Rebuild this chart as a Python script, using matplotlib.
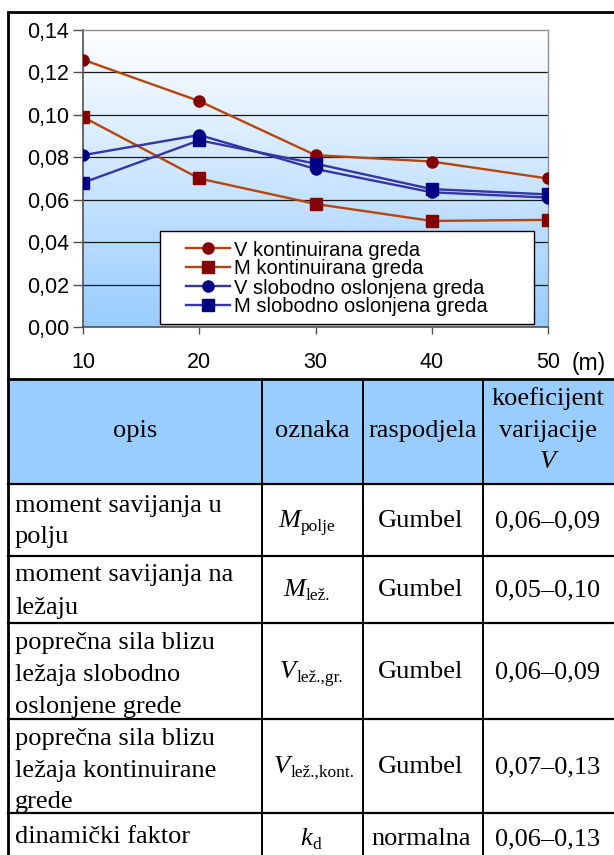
import numpy as np
import matplotlib
matplotlib.use("Agg")
import matplotlib.pyplot as plt
from matplotlib.colors import LinearSegmentedColormap

# ---------------- data ----------------
span = [10, 20, 30, 40, 50]
v_kont = [0.126, 0.1065, 0.081, 0.078, 0.070]
m_kont = [0.099, 0.070, 0.058, 0.050, 0.0505]
v_slob = [0.081, 0.0905, 0.0745, 0.0635, 0.061]
m_slob = [0.068, 0.088, 0.077, 0.065, 0.0625]
series_labels = ["V kontinuirana greda", "M kontinuirana greda",
                 "V slobodno oslonjena greda", "M slobodno oslonjena greda"]
y_ticks = [0.00, 0.02, 0.04, 0.06, 0.08, 0.10, 0.12, 0.14]
y_tick_labels = ["0,00", "0,02", "0,04", "0,06", "0,08", "0,10", "0,12", "0,14"]
x_unit = "(m)"

table_header = ["opis", "oznaka", "raspodjela", "koeficijent\nvarijacije"]
table_desc = ["moment savijanja u\npolju",
              "moment savijanja na\nležaju",
              "poprečna sila blizu\nležaja slobodno\noslonjene grede",
              "poprečna sila blizu\nležaja kontinuirane\ngrede",
              "dinamički faktor"]
table_sym_main = ["M", "M", "V", "V", "k"]
table_sym_sub = ["polje", "lež.", "lež.,gr.", "lež.,kont.", "d"]
table_dist = ["Gumbel", "Gumbel", "Gumbel", "Gumbel", "normalna"]
table_cov = ["0,06–0,09", "0,05–0,10", "0,06–0,09", "0,07–0,13", "0,06–0,13"]

# ---------------- figure ----------------
W, H = 614, 855
fig = plt.figure(figsize=(W / 100, H / 100), dpi=100)
fig.patch.set_facecolor("white")

ov = fig.add_axes([0, 0, 1, 1])
ov.set_xlim(0, W)
ov.set_ylim(H, 0)
ov.axis("off")
ov.set_zorder(0)

def fx(px):
    return px / W

def fy(py):
    return 1 - py / H

lw_thick = 2.0
ov.plot([8, 8], [12, 855], color="black", lw=lw_thick, solid_capstyle="butt")
ov.plot([8, 614], [12, 12], color="black", lw=lw_thick)
ov.plot([8, 614], [379, 379], color="black", lw=lw_thick)

# ---------------- chart ----------------
L, R, T, B = 83, 548, 30, 327
ax = fig.add_axes([fx(L), fy(B), fx(R) - fx(L), fy(T) - fy(B)])
ax.set_zorder(1)

cmap = LinearSegmentedColormap.from_list("bg", ["#ffffff", "#99ccff"])
grad = np.linspace(0, 1, 256).reshape(-1, 1)
ax.imshow(grad, cmap=cmap, aspect="auto", extent=[10, 50, 0, 0.14],
          origin="upper", zorder=0)
ax.set_xlim(10, 50)
ax.set_ylim(0, 0.14)

for yv in y_ticks[1:-1]:
    ax.axhline(yv, color="#1a1a1a", lw=0.9, zorder=1)

brown_line = "#b8440e"
brown_mark = "#850000"
blue_line = "#3535a5"
blue_mark = "#000085"

ax.plot(span, v_kont, color=brown_line, lw=1.7, marker="o", ms=8,
        mfc=brown_mark, mec=brown_mark, label=series_labels[0], zorder=3)
ax.plot(span, m_kont, color=brown_line, lw=1.7, marker="s", ms=8,
        mfc=brown_mark, mec=brown_mark, label=series_labels[1], zorder=3)
ax.plot(span, v_slob, color=blue_line, lw=1.7, marker="o", ms=8,
        mfc=blue_mark, mec=blue_mark, label=series_labels[2], zorder=3)
ax.plot(span, m_slob, color=blue_line, lw=1.7, marker="s", ms=8,
        mfc=blue_mark, mec=blue_mark, label=series_labels[3], zorder=3)

for s in ["top", "right"]:
    ax.spines[s].set_color("#909090")
    ax.spines[s].set_linewidth(1.0)
for s in ["left", "bottom"]:
    ax.spines[s].set_color("#505050")
    ax.spines[s].set_linewidth(1.2)

ax.set_yticks(y_ticks)
ax.set_yticklabels(y_tick_labels)
ax.set_xticks(span)
ax.set_xticklabels([str(s) for s in span])
ax.tick_params(axis="y", direction="out", length=7, width=1, color="#505050",
               labelsize=15.5, pad=3)
ax.tick_params(axis="x", direction="out", length=5, width=1, color="#505050",
               labelsize=15.5, pad=13)
for lab in ax.get_xticklabels() + ax.get_yticklabels():
    lab.set_fontfamily("Liberation Sans")

ov.text(589, 363, x_unit, ha="center", va="center", fontsize=16.5,
        family="Liberation Sans")

# legend frame (pixel coords x 160-534, y 231-324), drawn on the chart axes
lx0, lx1, ly0, ly1 = 160, 534, 231, 324
frame = plt.Rectangle((lx0, ly0), lx1 - lx0, ly1 - ly0, facecolor="white",
                      edgecolor="black", lw=1.0, zorder=4,
                      transform=ov.transData, clip_on=False)
ax.add_artist(frame)
leg = ax.legend(loc="center left",
                bbox_to_anchor=(fx(186), fy((ly0 + ly1) / 2 + 1)),
                bbox_transform=fig.transFigure,
                prop={"family": "Liberation Sans", "size": 14.5},
                frameon=False,
                handlelength=2.2, handletextpad=0.2, labelspacing=0.0,
                borderpad=0.0, borderaxespad=0)
leg.set_zorder(5)

# ---------------- table ----------------
serif = "Liberation Serif"
fs = 19
ov.add_patch(plt.Rectangle((8, 380), W - 8, 104, facecolor="#99ccff",
                           edgecolor="none", zorder=0))
row_lines = [484, 556, 623, 719, 813]
for yv in row_lines:
    ov.plot([8, 614], [yv, yv], color="black", lw=1.6)
col_lines = [262, 363, 483]
for xv in col_lines:
    ov.plot([xv, xv], [380, 855], color="black", lw=1.4)

ov.text(135, 437, table_header[0], ha="center", va="baseline", fontsize=fs, family=serif)
ov.text(312, 437, table_header[1], ha="center", va="baseline", fontsize=fs, family=serif)
ov.text(423, 437, table_header[2], ha="center", va="baseline", fontsize=fs, family=serif)
hdr_lines = table_header[3].split("\n")
ov.text(548, 405, hdr_lines[0], ha="center", va="baseline", fontsize=fs, family=serif)
ov.text(548, 437, hdr_lines[1], ha="center", va="baseline", fontsize=fs, family=serif)
ov.text(548, 468, "V", ha="center", va="baseline", fontsize=fs, family=serif,
        style="italic")

desc_baselines = [[512, 543], [581, 614], [649, 681, 713], [745, 777, 808], [843]]
sym_baseline = [527, 596, 678, 773, 845]
sym_right = [300, 305, 296, 290, 312]
for i in range(5):
    for j, line in enumerate(table_desc[i].split("\n")):
        ov.text(15, desc_baselines[i][j], line, ha="left", va="baseline",
                fontsize=fs, family=serif)
    ov.text(sym_right[i], sym_baseline[i], table_sym_main[i], ha="right",
            va="baseline", fontsize=fs, family=serif, style="italic")
    ov.text(sym_right[i] + 0.5, sym_baseline[i] + 4, table_sym_sub[i], ha="left",
            va="baseline", fontsize=12.5, family=serif)
    ov.text(421, sym_baseline[i], table_dist[i], ha="center", va="baseline",
            fontsize=fs, family=serif)
    ov.text(548, sym_baseline[i], table_cov[i], ha="center", va="baseline",
            fontsize=fs, family=serif)

fig.savefig("out.png", dpi=100)
